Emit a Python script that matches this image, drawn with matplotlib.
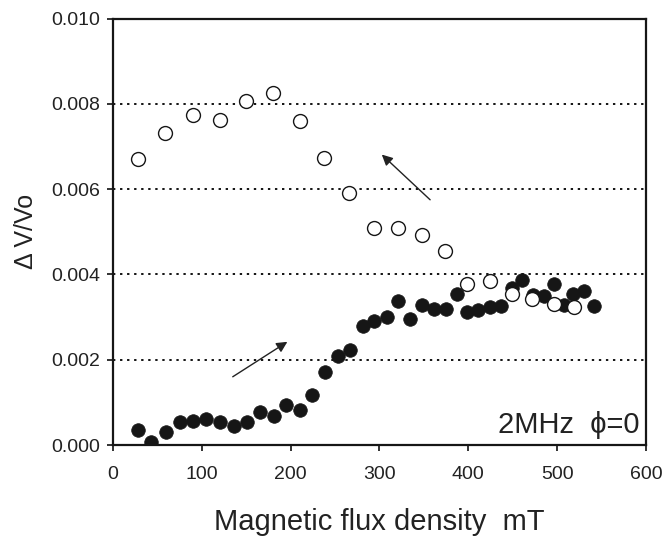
import matplotlib
matplotlib.use("Agg")
import matplotlib.pyplot as plt

# field up (filled) and field down (open) sweeps
up_field = [28, 43, 60, 75, 90, 105, 121, 136, 151, 166, 181, 195, 210, 224,
            239, 253, 267, 281, 294, 308, 321, 334, 348, 361, 375, 387, 399,
            411, 424, 437, 449, 461, 473, 485, 496, 508, 518, 530, 541]
up_dv = [0.00035, 0.00008, 0.00030, 0.00053, 0.00056, 0.00060, 0.00055,
         0.00044, 0.00055, 0.00078, 0.00068, 0.00093, 0.00083, 0.00117,
         0.00172, 0.00208, 0.00222, 0.00279, 0.00290, 0.00300, 0.00338,
         0.00295, 0.00328, 0.00318, 0.00320, 0.00354, 0.00312, 0.00316,
         0.00324, 0.00325, 0.00368, 0.00387, 0.00352, 0.00350, 0.00377,
         0.00328, 0.00353, 0.00360, 0.00326]

down_field = [28, 59, 90, 121, 150, 180, 210, 238, 266, 294, 321, 348, 374,
              399, 424, 449, 472, 496, 519]
down_dv = [0.00671, 0.00731, 0.00774, 0.00761, 0.00806, 0.00826, 0.00759,
           0.00674, 0.00591, 0.00508, 0.00509, 0.00492, 0.00455, 0.00377,
           0.00385, 0.00355, 0.00342, 0.00330, 0.00324]

x_ticks = [0, 100, 200, 300, 400, 500, 600]
y_ticks = [0.000, 0.002, 0.004, 0.006, 0.008, 0.010]

plt.rcParams['font.family'] = ['Liberation Sans', 'DejaVu Sans']

fig = plt.figure(figsize=(6.71, 5.4), dpi=100)
ax = fig.add_axes([0.1684, 0.1759, 0.7943, 0.7898])

for y in y_ticks[1:-1]:
    ax.axhline(y, color='black', lw=1.3, ls=(0, (1.3, 2.6)), zorder=1)

ax.plot(up_field, up_dv, 'o', ms=9.8, mfc='#161616', mec='#161616',
        mew=0.5, zorder=3)
ax.plot(down_field, down_dv, 'o', ms=10, mfc='white', mec='#161616',
        mew=1.0, zorder=4)

arrow = dict(arrowstyle='-|>', color='#222222', lw=1.0, mutation_scale=16,
             shrinkA=0, shrinkB=0)
ax.annotate('', xy=(302.6, 0.00681), xytext=(357, 0.00575), arrowprops=arrow)
ax.annotate('', xy=(196.3, 0.00242), xytext=(134.8, 0.00160), arrowprops=arrow)

ax.set_xlim(0, 600)
ax.set_ylim(0, 0.010)
ax.set_xticks(x_ticks)
ax.set_yticks(y_ticks)
ax.set_xticklabels([str(v) for v in x_ticks], fontsize=14)
ax.set_yticklabels(['%.3f' % v for v in y_ticks], fontsize=14)
ax.tick_params(axis='x', direction='out', length=4, width=1.3, pad=11,
               colors='#222222')
ax.tick_params(axis='y', direction='out', length=4, width=1.3, pad=5,
               colors='#222222')
for s in ax.spines.values():
    s.set_linewidth(1.6)
    s.set_color('#161616')

ax.set_xlabel('Magnetic flux density  mT', fontsize=21, color='#222222',
              labelpad=18)
ax.set_ylabel('Δ V/Vo', fontsize=18, color='#222222', labelpad=10)
ax.text(0.988, 0.015, '2MHz  ϕ=0', transform=ax.transAxes, ha='right',
        va='bottom', fontsize=21, color='#222222')

fig.savefig('out.png', dpi=100)
